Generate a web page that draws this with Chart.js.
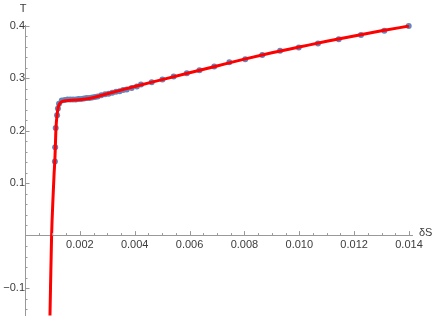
<!DOCTYPE html>
<html>
<head>
<meta charset="utf-8">
<script src="https://cdn.jsdelivr.net/npm/chart.js@4"></script>
<style>
  html, body { margin: 0; padding: 0; background: #fff; }
  #wrap { width: 436px; height: 327px; }
</style>
</head>
<body>
<div id="wrap"><canvas id="chart1"></canvas></div>
<script>
// sampled points (blue)
const deltaS = [0.00109, 0.00110, 0.00112, 0.00117, 0.00120, 0.00124, 0.00134, 0.00145, 0.00155, 0.00165,
    0.00175, 0.00185, 0.00195, 0.00205, 0.00215, 0.00225, 0.00235, 0.00245, 0.00255, 0.00265,
    0.00278, 0.00292, 0.00305, 0.00318, 0.00332, 0.00345, 0.00358, 0.00371, 0.00389, 0.00408,
    0.00423, 0.00462, 0.00501, 0.00542, 0.00590, 0.00636, 0.00690, 0.00745, 0.00803, 0.00865,
    0.00930, 0.00998, 0.01068, 0.01144, 0.01225, 0.01310, 0.01399];
const tempT = [0.141, 0.168, 0.205, 0.229, 0.242, 0.251, 0.257, 0.258, 0.259, 0.259,
    0.259, 0.259, 0.260, 0.260, 0.261, 0.262, 0.262, 0.263, 0.264, 0.265,
    0.267, 0.269, 0.270, 0.272, 0.274, 0.275, 0.277, 0.278, 0.281, 0.284,
    0.2875, 0.292, 0.297, 0.303, 0.309, 0.315, 0.322, 0.330, 0.336, 0.344,
    0.352, 0.358, 0.366, 0.374, 0.382, 0.390, 0.399];

// fitted curve (red)
const fitS = [0.00091, 0.00097, 0.00102, 0.00106, 0.00109, 0.00111, 0.00113, 0.00117, 0.00121, 0.00126,
    0.00134, 0.00150, 0.00180, 0.00220, 0.00250, 0.00300, 0.00350, 0.00400, 0.00500, 0.00600,
    0.00700, 0.00800, 0.00900, 0.01000, 0.01100, 0.01200, 0.01300, 0.01400];
const fitT = [-0.153, 0.000, 0.070, 0.117, 0.145, 0.175, 0.205, 0.230, 0.244, 0.251,
    0.255, 0.257, 0.258, 0.260, 0.263, 0.270, 0.277, 0.284, 0.297, 0.310,
    0.323, 0.336, 0.348, 0.359, 0.370, 0.380, 0.390, 0.399];

const xTicks = [0.002, 0.004, 0.006, 0.008, 0.010, 0.012, 0.014];
const yTicks = [-0.1, 0.1, 0.2, 0.3, 0.4];
const xMinor = [0.0005, 0.001, 0.0015, 0.0025, 0.003, 0.0035, 0.0045, 0.005, 0.0055, 0.0065, 0.007, 0.0075,
    0.0085, 0.009, 0.0095, 0.0105, 0.011, 0.0115, 0.0125, 0.013, 0.0135];
const yMinor = [-0.14, -0.12, -0.08, -0.06, -0.04, -0.02, 0.02, 0.04, 0.06, 0.08, 0.12, 0.14, 0.16, 0.18,
    0.22, 0.24, 0.26, 0.28, 0.32, 0.34, 0.36, 0.38];

const axisColor = '#999999';
const textColor = '#3c3c3c';

// tick marks drawn inward like Mathematica + axis names
const axisDeco = {
    id: 'axisDeco',
    afterDraw(chart) {
        const c = chart.ctx, xs = chart.scales.x, ys = chart.scales.y;
        const x0 = xs.getPixelForValue(0), y0 = ys.getPixelForValue(0);
        c.save();
        c.strokeStyle = axisColor;
        c.lineWidth = 1;
        c.beginPath();
        xTicks.forEach(v => { const p = Math.round(xs.getPixelForValue(v)) + 0.5; c.moveTo(p, y0); c.lineTo(p, y0 - 4.5); });
        xMinor.forEach(v => { const p = Math.round(xs.getPixelForValue(v)) + 0.5; c.moveTo(p, y0); c.lineTo(p, y0 - 2.5); });
        yTicks.forEach(v => { const p = Math.round(ys.getPixelForValue(v)) + 0.5; c.moveTo(x0, p); c.lineTo(x0 + 4.5, p); });
        yMinor.forEach(v => { const p = Math.round(ys.getPixelForValue(v)) + 0.5; c.moveTo(x0, p); c.lineTo(x0 + 2.5, p); });
        c.stroke();
        c.fillStyle = textColor;
        c.font = '11px "Liberation Sans", Arial, sans-serif';
        c.textAlign = 'center';
        c.textBaseline = 'middle';
        c.fillText('T', x0 - 2, 9);
        c.textAlign = 'left';
        c.fillText('δS', xs.right + 7, y0 - 3);
        c.restore();
    }
};

const ctx = document.getElementById('chart1');
const chart = new Chart(ctx, {
    type: 'scatter',
    data: {
        datasets: [{
            label: 'fit',
            data: fitS.map((s, i) => ({x: s, y: fitT[i]})),
            showLine: true,
            borderColor: '#ff0000',
            borderWidth: 3,
            pointRadius: 0,
            cubicInterpolationMode: 'monotone'
        }, {
            label: 'data',
            data: deltaS.map((s, i) => ({x: s, y: tempT[i]})),
            showLine: false,
            pointRadius: 3,
            pointBorderWidth: 0,
            backgroundColor: '#6485bb',
            borderColor: '#6485bb',
            clip: false
        }]
    },
    options: {
        responsive: true,
        maintainAspectRatio: false,
        animation: false,
        layout: { padding: { left: 25, right: 24, top: 25, bottom: 0 } },
        plugins: { legend: { display: false }, tooltip: { enabled: false } },
        scales: {
            x: {
                type: 'linear',
                position: { y: 0 },
                min: 0,
                max: 0.01411,
                afterBuildTicks: s => { s.ticks = xTicks.map(v => ({ value: v })); },
                ticks: {
                    padding: 3,
                    color: textColor,
                    font: { family: '"Liberation Sans", Arial, sans-serif', size: 11 },
                    callback: v => v.toFixed(3),
                    maxRotation: 0,
                    autoSkip: false
                },
                grid: { display: false, drawTicks: false },
                border: { display: true, color: axisColor, width: 1 }
            },
            y: {
                type: 'linear',
                position: { x: 0 },
                min: -0.152,
                max: 0.401,
                afterBuildTicks: s => { s.ticks = yTicks.map(v => ({ value: v })); },
                ticks: {
                    padding: 5,
                    color: textColor,
                    font: { family: '"Liberation Sans", Arial, sans-serif', size: 11 },
                    callback: v => (Math.round(v * 10) / 10).toFixed(1).replace('-', '\u2212'),
                    autoSkip: false
                },
                grid: { display: false, drawTicks: false },
                border: { display: true, color: axisColor, width: 1 }
            }
        }
    },
    plugins: [axisDeco]
});
</script>
</body>
</html>
